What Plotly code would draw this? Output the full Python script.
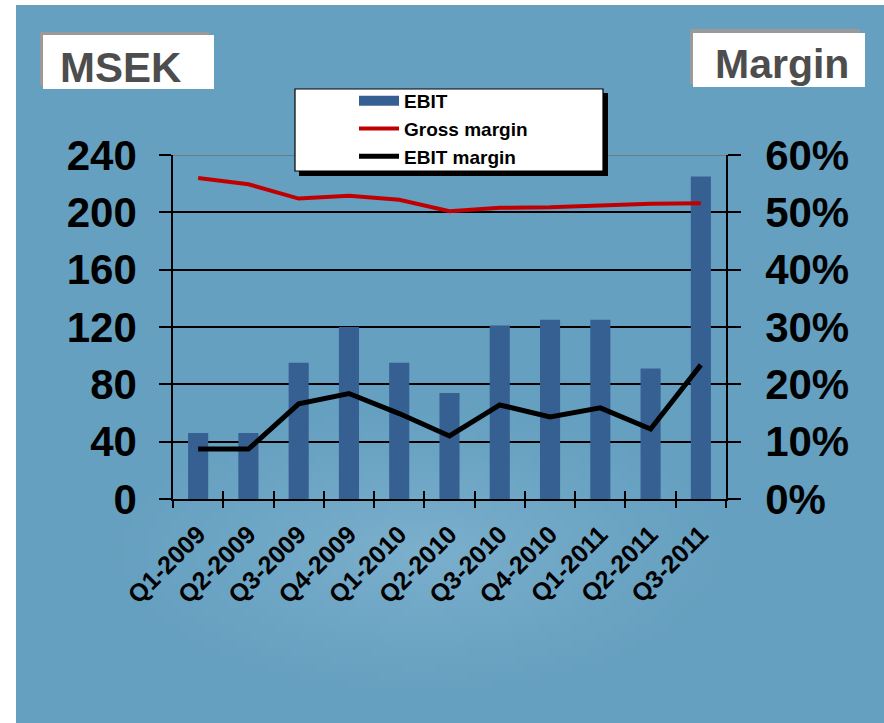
import struct, zlib, base64, math
import plotly.graph_objects as go

# ---------------- data ----------------
quarters = ["Q1-2009", "Q2-2009", "Q3-2009", "Q4-2009", "Q1-2010", "Q2-2010",
            "Q3-2010", "Q4-2010", "Q1-2011", "Q2-2011", "Q3-2011"]
ebit = [46, 46, 95, 120, 95, 74, 121, 125, 125, 91, 225]
gross_margin = [56.0, 54.9, 52.4, 52.9, 52.2, 50.2, 50.8, 50.9, 51.2, 51.5, 51.6]
ebit_margin = [8.7, 8.7, 16.6, 18.4, 14.9, 11.0, 16.4, 14.3, 15.9, 12.2, 23.4]
left_ticks = [0, 40, 80, 120, 160, 200, 240]
right_ticks = [0, 10, 20, 30, 40, 50, 60]
right_labels = ["0%", "10%", "20%", "30%", "40%", "50%", "60%"]

# ---------------- geometry helpers ----------------
W_FIG, H_FIG = 884, 723
L, R, T, B = 173, 726, 155, 499
PW, PH = R - L, B - T


def px2x(px):
    return (px - L) / PW


def py2y(py):
    return (B - py) / PH


# ---------------- background gradient (PNG data URI) ----------------
def make_png(w, h, pixel):
    raw = b"".join(b"\x00" + bytes(sum((pixel(i, j) for i in range(w)), ())) for j in range(h))

    def chunk(tag, data):
        c = struct.pack(">I", len(data)) + tag + data
        return c + struct.pack(">I", zlib.crc32(tag + data) & 0xFFFFFFFF)

    return (b"\x89PNG\r\n\x1a\n" + chunk(b"IHDR", struct.pack(">IIBBBBB", w, h, 8, 2, 0, 0, 0))
            + chunk(b"IDAT", zlib.compress(raw, 9)) + chunk(b"IEND", b""))


BG_X0, BG_Y0 = 16, 5
GW, GH = 109, 90
base = (102, 160, 192)
light = (124, 176, 205)


def grad(i, j):
    px = BG_X0 + (i + 0.5) * (W_FIG - BG_X0) / GW
    py = BG_Y0 + (j + 0.5) * (H_FIG - BG_Y0) / GH
    d = math.sqrt(((px - 420) / 320) ** 2 + ((py - 550) / 150) ** 2)
    t = max(0.0, 1 - d) ** 1.3
    return tuple(int(round(b + (l - b) * t)) for b, l in zip(base, light))


bg_uri = "data:image/png;base64," + base64.b64encode(make_png(GW, GH, grad)).decode()

FONT = "Liberation Sans, Arial, sans-serif"
BAR_COLOR = "#376092"

fig = go.Figure()
fig.add_trace(go.Bar(x=quarters, y=ebit, name="EBIT", marker_color=BAR_COLOR,
                     marker_line_width=0, showlegend=False, legendgroup="a"))
# legend entry for EBIT (wide rectangle symbol like the original)
fig.add_trace(go.Scatter(x=[None], y=[None], name="EBIT", mode="lines",
                         line=dict(color=BAR_COLOR, width=11), legendgroup="a"))
fig.add_trace(go.Scatter(x=quarters, y=gross_margin, name="Gross margin", mode="lines",
                         line=dict(color="#c00000", width=4), yaxis="y2", legendgroup="b"))
fig.add_trace(go.Scatter(x=quarters, y=ebit_margin, name="EBIT margin", mode="lines",
                         line=dict(color="black", width=5), xaxis="x2", yaxis="y2",
                         legendgroup="c"))

tick_font_big = dict(family=FONT, size=42, color="black", weight="bold")

fig.update_layout(
    width=W_FIG, height=H_FIG,
    margin=dict(l=L, r=W_FIG - R, t=T, b=H_FIG - B, pad=0),
    paper_bgcolor="white", plot_bgcolor="white",
    bargap=0.6,
    xaxis=dict(type="category", categoryorder="array", categoryarray=quarters,
               range=[-0.5, len(quarters) - 0.5], showline=True, linecolor="black",
               linewidth=1.5, ticks="outside", ticklen=7, tickwidth=1.5, tickcolor="black",
               tickson="boundaries", tickangle=-45, showgrid=False, anchor="y",
               ticklabelstandoff=9,
               tickfont=dict(family=FONT, size=25, color="black", weight="bold")),
    xaxis2=dict(type="category", categoryorder="array", categoryarray=quarters,
                range=[-0.5, len(quarters) - 0.5], overlaying="x", side="bottom",
                anchor="y2", ticks="inside", ticklen=8, tickwidth=1.5, tickcolor="black",
                tickson="boundaries", showticklabels=False, showline=False, showgrid=False),
    yaxis=dict(range=[0, 240], tickvals=left_ticks, showgrid=True, gridcolor="black",
               gridwidth=1.5, showline=True, linecolor="black", linewidth=1.5,
               ticks="outside", ticklen=12, tickwidth=1.5, tickcolor="black",
               zeroline=False, tickfont=tick_font_big, ticklabelstandoff=14),
    yaxis2=dict(range=[0, 60], tickvals=right_ticks, ticktext=right_labels, overlaying="y",
                side="right", anchor="x", showgrid=False, showline=True, linecolor="black",
                linewidth=1.5, ticks="outside", ticklen=13, tickwidth=1.5, tickcolor="black",
                zeroline=False, tickfont=tick_font_big, ticklabelstandoff=16),
    legend=dict(x=px2x(354), xanchor="left", y=py2y(82), yanchor="top",
                bgcolor="rgba(0,0,0,0)", borderwidth=0, itemwidth=40,
                font=dict(family=FONT, size=19, color="black", weight="bold"),
                tracegroupgap=0, traceorder="normal"),
    showlegend=True,
)

fig.add_layout_image(dict(source=bg_uri, xref="paper", yref="paper",
                          x=px2x(BG_X0), y=py2y(BG_Y0),
                          sizex=(W_FIG - BG_X0) / PW, sizey=(H_FIG - BG_Y0) / PH,
                          xanchor="left", yanchor="top", sizing="stretch", layer="below"))


def rect(x0, y0, x1, y1, fill, line_color=None, line_width=0, layer="above"):
    fig.add_shape(type="rect", xref="paper", yref="paper",
                  x0=px2x(x0), x1=px2x(x1), y0=py2y(y0), y1=py2y(y1),
                  fillcolor=fill, layer=layer,
                  line=dict(color=line_color or fill, width=line_width))


# grey top border of the plot area
fig.add_shape(type="line", xref="paper", yref="y", x0=0, x1=1, y0=240, y1=240,
              line=dict(color="#707070", width=1.5), layer="above")

# legend box with shadow
rect(299, 93, 608, 176, "black")
rect(295, 89, 603, 171, "white", "black", 1.2)

# unit boxes
rect(40, 32, 209, 86, "#9a9a9a")
rect(43, 35, 214, 89, "white")
rect(690, 29, 860, 84, "#9a9a9a")
rect(693, 33, 865, 87, "white")

fig.add_annotation(text="MSEK", xref="paper", yref="paper", x=px2x(58), y=py2y(67),
                   xanchor="left", yanchor="middle", showarrow=False,
                   font=dict(family=FONT, size=42, color="#4d4d4d", weight="bold"))
fig.add_annotation(text="Margin", xref="paper", yref="paper", x=px2x(713), y=py2y(64),
                   xanchor="left", yanchor="middle", showarrow=False,
                   font=dict(family=FONT, size=41, color="#4d4d4d", weight="bold"))

fig.write_html("out.html", config={"displayModeBar": False},
               post_script="document.body.style.margin='0';")
